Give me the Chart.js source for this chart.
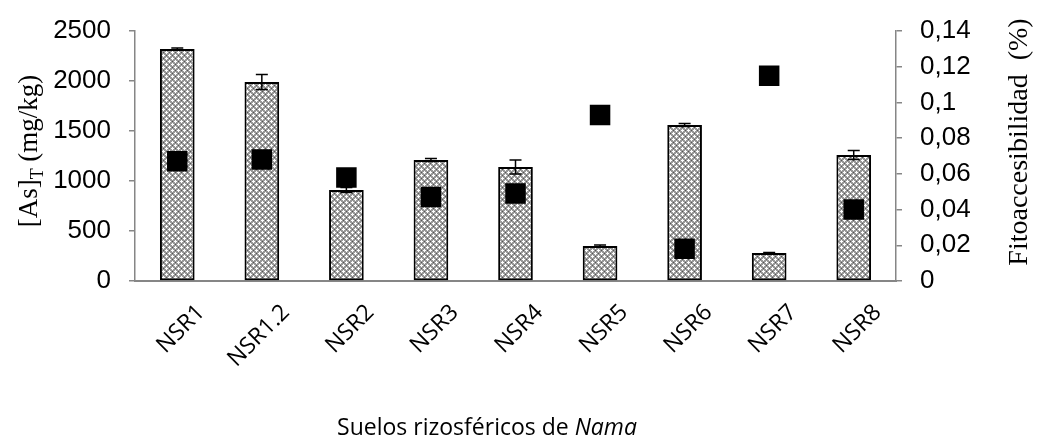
<!DOCTYPE html>
<html>
<head>
<meta charset="utf-8">
<script src="https://cdn.jsdelivr.net/npm/chart.js@4.4.1/dist/chart.umd.min.js"></script>
<style>
html,body{margin:0;padding:0;background:#fff;}
#wrap{width:1037px;height:445px;position:relative;}
</style>
</head>
<body>
<div id="wrap"><canvas id="c" width="1037" height="445"></canvas></div>
<script>
const categories = ['NSR1','NSR1.2','NSR2','NSR3','NSR4','NSR5','NSR6','NSR7','NSR8'];
const asTotal = [2320, 1990, 910, 1210, 1140, 350, 1560, 280, 1260];
const asError = [10, 75, 25, 15, 70, 10, 15, 5, 45];
const fitoaccesibilidad = [0.067, 0.068, 0.058, 0.047, 0.049, 0.093, 0.018, 0.115, 0.040];
const leftTicks = [0, 500, 1000, 1500, 2000, 2500];
const rightTicks = [0, 0.02, 0.04, 0.06, 0.08, 0.1, 0.12, 0.14];

function makePattern() {
  const t = document.createElement('canvas');
  t.width = 6; t.height = 6;
  const g = t.getContext('2d');
  g.fillStyle = '#999999';
  g.fillRect(0, 0, 6, 6);
  g.fillStyle = '#ffffff';
  const plus = (cx, cy) => {
    for (const [dx, dy] of [[0,0],[1,0],[-1,0],[0,1],[0,-1]]) {
      g.fillRect((cx + dx + 6) % 6, (cy + dy + 6) % 6, 1, 1);
    }
  };
  plus(1, 1); plus(4, 4);
  g.fillStyle = '#555555';
  g.fillRect(4, 1, 1, 1); g.fillRect(1, 4, 1, 1);
  return g.createPattern(t, 'repeat');
}

const axisGray = '#868686';

const extras = {
  id: 'extras',
  afterDatasetsDraw(chart) {
    const ctx = chart.ctx;
    const meta = chart.getDatasetMeta(0);
    const y = chart.scales.y;
    ctx.save();
    ctx.strokeStyle = '#000';
    ctx.lineWidth = 1.5;
    meta.data.forEach((bar, i) => {
      const x = bar.x;
      const top = y.getPixelForValue(asTotal[i] + asError[i]);
      const bot = y.getPixelForValue(asTotal[i] - asError[i]);
      ctx.beginPath();
      ctx.moveTo(x, top); ctx.lineTo(x, bot);
      ctx.moveTo(x - 6, top); ctx.lineTo(x + 6, top);
      ctx.moveTo(x - 6, bot); ctx.lineTo(x + 6, bot);
      ctx.stroke();
    });
    ctx.restore();
  },
  afterDraw(chart) {
    const ctx = chart.ctx;
    ctx.save();
    ctx.fillStyle = '#000';
    ctx.translate(28, 151);
    ctx.rotate(-Math.PI / 2);
    ctx.textBaseline = 'alphabetic';
    const f1 = '27px "Liberation Serif"';
    const f2 = '18px "Liberation Serif"';
    ctx.font = f1; const w1 = ctx.measureText('[As]').width;
    ctx.font = f2; const w2 = ctx.measureText('T').width;
    ctx.font = f1; const w3 = ctx.measureText(' (mg/kg)').width;
    let x0 = -(w1 + w2 + w3) / 2;
    const base = 9;
    ctx.font = f1; ctx.fillText('[As]', x0, base); x0 += w1;
    ctx.font = f2; ctx.fillText('T', x0, base + 6); x0 += w2;
    ctx.font = f1; ctx.fillText(' (mg/kg)', x0, base);
    ctx.restore();

    ctx.save();
    ctx.fillStyle = '#000';
    ctx.translate(1020, 142);
    ctx.rotate(-Math.PI / 2);
    ctx.font = '28px "Liberation Serif"';
    ctx.textAlign = 'center';
    ctx.textBaseline = 'middle';
    ctx.fillText('Fitoaccesibilidad  (%)', 0, 0);
    ctx.restore();

    ctx.save();
    ctx.fillStyle = '#000';
    ctx.textBaseline = 'middle';
    const fa = '23px "Open Sans"';
    const fb = 'italic 23px "Open Sans"';
    ctx.font = fa; const a = ctx.measureText('Suelos rizosféricos de ').width;
    ctx.font = fb; const b = ctx.measureText('Nama').width;
    let xs = 487 - (a + b) / 2;
    ctx.font = fa; ctx.fillText('Suelos rizosféricos de ', xs, 428);
    ctx.font = fb; ctx.fillText('Nama', xs + a, 428);
    ctx.restore();
  }
};

new Chart(document.getElementById('c'), {
  data: {
    labels: categories,
    datasets: [
      {
        type: 'bar',
        data: asTotal,
        yAxisID: 'y',
        backgroundColor: makePattern(),
        borderColor: '#000',
        borderWidth: 2,
        borderSkipped: false,
        barPercentage: 0.41,
        categoryPercentage: 1,
        order: 2
      },
      {
        type: 'line',
        data: fitoaccesibilidad,
        yAxisID: 'y1',
        showLine: false,
        pointStyle: 'rect',
        pointRadius: 14.5,
        pointHoverRadius: 14.5,
        pointBackgroundColor: '#000',
        pointBorderColor: '#000',
        pointBorderWidth: 0,
        order: 1
      }
    ]
  },
  options: {
    responsive: false,
    animation: false,
    events: [],
    layout: { padding: { top: 31, left: 0, right: 0, bottom: 0 } },
    plugins: { legend: { display: false }, tooltip: { enabled: false } },
    scales: {
      x: {
        offset: true,
        grid: { display: false },
        border: { display: true, color: axisGray, width: 2 },
        ticks: {
          color: '#000',
          font: { family: '"Open Sans"', size: 23 },
          minRotation: 45,
          maxRotation: 45,
          labelOffset: 24,
          padding: 10
        },
        afterFit(s) { s.height = 164; s.paddingLeft = 0; s.paddingRight = 0; }
      },
      y: {
        position: 'left',
        min: 0, max: 2500,
        afterBuildTicks(s) { s.ticks = leftTicks.map(v => ({ value: v })); },
        grid: { drawOnChartArea: false, color: axisGray, tickLength: 6, lineWidth: 1.5 },
        border: { display: true, color: axisGray, width: 1.5 },
        ticks: {
          color: '#000',
          font: { family: '"Liberation Sans"', size: 26 },
          padding: 18,
          callback: v => String(v)
        },
        afterFit(s) { s.width = 135; s.paddingTop = 0; s.paddingBottom = 0; }
      },
      y1: {
        position: 'right',
        min: 0, max: 0.14,
        afterBuildTicks(s) { s.ticks = rightTicks.map(v => ({ value: v })); },
        grid: { drawOnChartArea: false, color: axisGray, tickLength: 6, lineWidth: 1.5 },
        border: { display: true, color: axisGray, width: 1.5 },
        ticks: {
          color: '#000',
          font: { family: '"Liberation Sans"', size: 26 },
          padding: 18,
          callback: v => String(+v.toFixed(2)).replace('.', ',')
        },
        afterFit(s) { s.width = 141; s.paddingTop = 0; s.paddingBottom = 0; }
      }
    }
  },
  plugins: [extras]
});
</script>
</body>
</html>
